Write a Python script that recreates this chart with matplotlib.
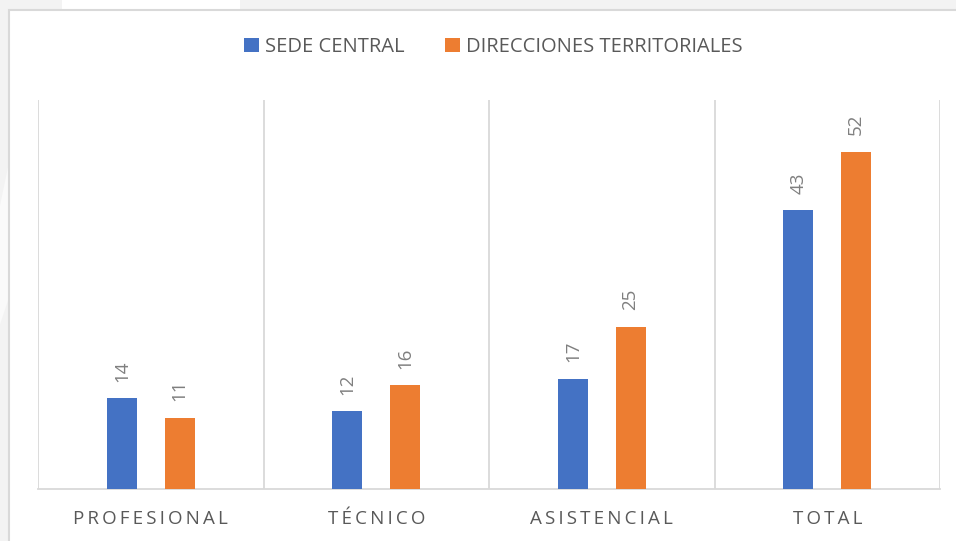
import matplotlib
matplotlib.use("Agg")
import matplotlib.pyplot as plt
from matplotlib.patches import Rectangle, Polygon
import numpy as np

categories = ["PROFESIONAL", "TÉCNICO", "ASISTENCIAL", "TOTAL"]
sede_central = [14, 12, 17, 43]
direcciones = [11, 16, 25, 52]
series_names = ["SEDE CENTRAL", "DIRECCIONES TERRITORIALES"]

BLUE = "#4472C4"
ORANGE = "#ED7D31"
GRID = "#D9D9D9"
TEXT = "#595959"

plt.rcParams["font.family"] = ["Open Sans", "DejaVu Sans"]

fig = plt.figure(figsize=(9.56, 5.41), dpi=100)
fig.patch.set_facecolor("#F3F3F3")

# faint background shapes behind the chart panel
fig.patches.append(Polygon([(62/956, 1), (240/956, 1), (240/956, 0.98), (62/956, 0.98)],
                           closed=True, transform=fig.transFigure, facecolor="white",
                           edgecolor="none", zorder=0))
fig.patches.append(Polygon([(0, 0.62), (9/956, 0.70), (9/956, 0.45), (0, 0.40)],
                           closed=True, transform=fig.transFigure, facecolor="#FAFAFA",
                           edgecolor="none", zorder=0))

# chart panel
fig.patches.append(Rectangle((9/956, -0.01), 1.0, 1 - 10/541 + 0.01,
                             transform=fig.transFigure, facecolor="white",
                             edgecolor=GRID, linewidth=1.5, zorder=1))

ax = fig.add_axes([38/956, 52/541, (940 - 38)/956, (489 - 100)/541])
ax.set_facecolor("none")
ax.set_zorder(2)

x = np.arange(len(categories))
off = 0.128
w = 0.133
b1 = ax.bar(x - off, sede_central, w, color=BLUE, zorder=3, label=series_names[0])
b2 = ax.bar(x + off, direcciones, w, color=ORANGE, zorder=3, label=series_names[1])

for bars, vals in ((b1, sede_central), (b2, direcciones)):
    for bar, v in zip(bars, vals):
        ax.annotate(str(v), xy=(bar.get_x() + bar.get_width() / 2, bar.get_height()),
                    xytext=(0, 12), textcoords="offset points", rotation=90,
                    ha="center", va="bottom", fontsize=13.5, color="#7F7F7F")

ax.set_xlim(-0.5, len(categories) - 0.5)
ax.set_ylim(0, 60)
for xb in np.arange(-0.5, len(categories), 1.0):
    ax.axvline(xb, color=GRID, linewidth=1.3, zorder=1)

for s in ("top", "right", "left"):
    ax.spines[s].set_visible(False)
ax.spines["bottom"].set_color(GRID)
ax.spines["bottom"].set_linewidth(1.3)
ax.set_yticks([])
ax.set_xticks(x)
ax.set_xticklabels(["\u2009".join(c) for c in categories], fontsize=13.5, color=TEXT)
ax.tick_params(axis="x", length=0, pad=15)

leg = fig.legend(loc="center", bbox_to_anchor=(493/956, 1 - 47/541), ncol=2,
                 frameon=False, fontsize=14.5, handlelength=0.75, handleheight=0.75,
                 handletextpad=0.3, columnspacing=2.0)
for t in leg.get_texts():
    t.set_color(TEXT)

fig.savefig("out.png", dpi=100, facecolor=fig.get_facecolor())
